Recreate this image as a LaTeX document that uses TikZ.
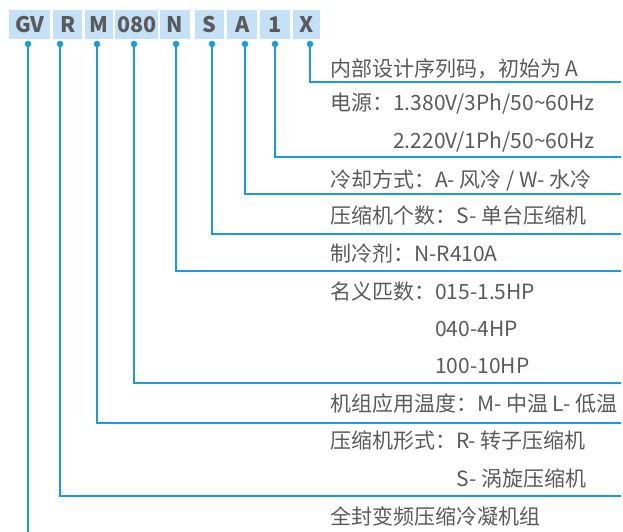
\documentclass[tikz,border=0pt]{standalone}
\usepackage{fontspec}
\setmainfont{Noto Sans CJK SC}
\begin{document}
\begin{tikzpicture}[x=1pt,y=-1pt,
  codebox/.style={fill=boxblue, inner sep=0pt, text=txtgray, font=\fontsize{21.5}{21.5}\selectfont\bfseries},
  dotc/.style={circle, fill=lineblue, inner sep=0pt, minimum size=6.5pt},
  lead/.style={draw=lineblue, line width=2.4pt},
  lbl/.style={anchor=base west, inner sep=0pt, text=txtgray, font=\fontsize{21}{21}\selectfont}
]
\definecolor{boxblue}{HTML}{C4E1F7}
\definecolor{lineblue}{HTML}{1A9BE0}
\definecolor{txtgray}{HTML}{5A5A5A}
\useasboundingbox (0,0) rectangle (623,531);
% header boxes
\foreach \nm/\a/\b/\t in {gv/9/50/GV, r/53/82/R, m/85/113/M, n080/115/158/080, n/160/190/N, s/195/224/S, a/227/257/A, one/260/290/1, x/293/320/X}{
  \node[codebox, minimum width={\b-\a}, minimum height=29, anchor=north west] (b\nm) at (\a,10) {\t};
}
% dots
\foreach \nm/\x in {gv/28, r/60, m/97, n080/134, n/176, s/212, a/245, one/275, x/310}{
  \node[dotc] (d\nm) at (\x,44) {};
}
% corners and ends
\coordinate (cx) at (310,82);   \coordinate (ex) at (621,82);
\coordinate (cone) at (275,157); \coordinate (eone) at (621,157);
\coordinate (ca) at (245,194);  \coordinate (ea) at (621,194);
\coordinate (cs) at (212,234);  \coordinate (es) at (621,234);
\coordinate (cn) at (176,271);  \coordinate (en) at (621,271);
\coordinate (c080) at (134,383); \coordinate (e080) at (621,383);
\coordinate (cm) at (97,423);   \coordinate (em) at (621,423);
\coordinate (cr) at (60,496);   \coordinate (er) at (621,496);
\coordinate (egv) at (28,532);
\draw[lead] (dx.center) -- (cx) -- (ex);
\draw[lead] (done.center) -- (cone) -- (eone);
\draw[lead] (da.center) -- (ca) -- (ea);
\draw[lead] (ds.center) -- (cs) -- (es);
\draw[lead] (dn.center) -- (cn) -- (en);
\draw[lead] (dn080.center) -- (c080) -- (e080);
\draw[lead] (dm.center) -- (cm) -- (em);
\draw[lead] (dr.center) -- (cr) -- (er);
\draw[lead] (dgv.center) -- (egv);
% labels
\node[lbl] (t1) at (330,76.5) {内部设计序列码，初始为 A};
\node[lbl] (t2) at (330,110.5) {电源：1.380V/3Ph/50\textasciitilde60Hz};
\node[lbl] (t3) at (393,148.5) {2.220V/1Ph/50\textasciitilde60Hz};
\node[lbl] (t4) at (330,187.5) {冷却方式：A- 风冷 / W- 水冷};
\node[lbl] (t5) at (330,223.5) {压缩机个数：S- 单台压缩机};
\node[lbl] (t6) at (330,261.5) {制冷剂：N-R410A};
\node[lbl] (t7) at (330,299.5) {名义匹数：015-1.5HP};
\node[lbl] (t8) at (435,336.5) {040-4HP};
\node[lbl] (t9) at (435,373.5) {100-10HP};
\node[lbl] (t10) at (330,411.5) {机组应用温度：M- 中温 L- 低温};
\node[lbl] (t11) at (330,448.5) {压缩机形式：R- 转子压缩机};
\node[lbl] (t12) at (456,486.5) {S- 涡旋压缩机};
\node[lbl] (t13) at (330,524.5) {全封变频压缩冷凝机组};
\end{tikzpicture}
\end{document}
